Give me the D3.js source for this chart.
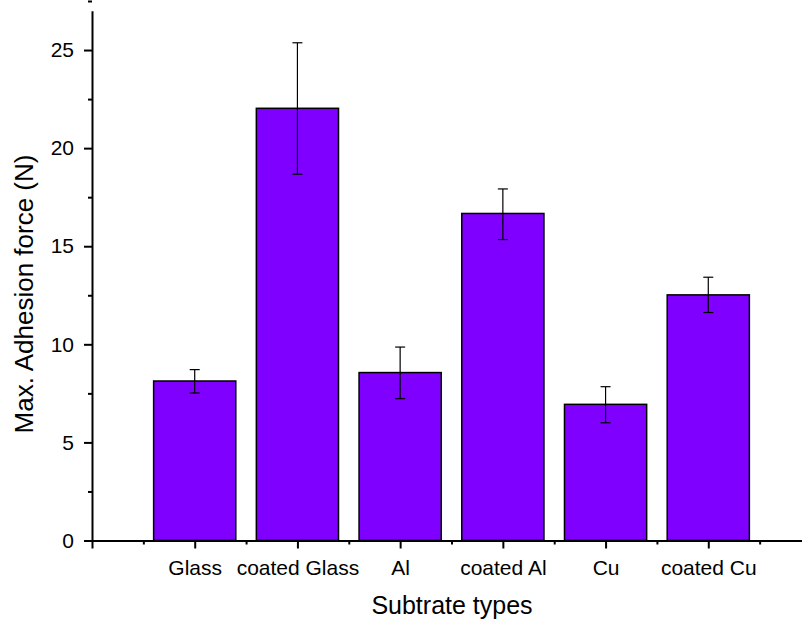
<!DOCTYPE html>
<html>
<head>
<meta charset="utf-8">
<script src="https://cdn.jsdelivr.net/npm/d3@7"></script>
<style>
  body { margin: 0; background: #fff; }
  svg { display: block; font-family: "Liberation Sans", Arial, sans-serif; }
</style>
</head>
<body>
<script>
var width = 802;
var height = 621;

// data
var categories = ["Glass", "coated Glass", "Al", "coated Al", "Cu", "coated Cu"];
var values = [8.13, 22.03, 8.56, 16.67, 6.94, 12.52];
var errLow = [7.52, 18.67, 7.23, 15.34, 6.00, 11.62];
var errHigh = [8.71, 25.37, 9.86, 17.92, 7.84, 13.42];
var yTicks = [0, 5, 10, 15, 20, 25];

var x = d3.scaleLinear().domain([0, 7]).range([92, 811]);
var y = d3.scaleLinear().domain([0, 27]).range([540.5, 10.8]);

const svg = d3.select("body").append("svg")
  .attr("width", width)
  .attr("height", height);

/* 柱子 */
var barW = x(0.8) - x(0);
svg.append("g")
  .selectAll("rect")
  .data(values)
  .enter().append("rect")
  .attr("x", (d, i) => x(i + 1) - barW / 2)
  .attr("y", d => y(d))
  .attr("width", barW)
  .attr("height", d => y(0) - y(d))
  .attr("fill", "#7f00ff")
  .attr("stroke", "#000")
  .attr("stroke-width", 1.5);

/* 误差线 */
var err = svg.append("g")
  .attr("stroke", "#000")
  .attr("stroke-width", 1.2);
values.forEach(function (d, i) {
  var cx = x(i + 1);
  err.append("line")
    .attr("x1", cx).attr("x2", cx)
    .attr("y1", y(errLow[i])).attr("y2", y(errHigh[i]));
  [errLow[i], errHigh[i]].forEach(function (v) {
    err.append("line")
      .attr("x1", cx - 5).attr("x2", cx + 5)
      .attr("y1", y(v)).attr("y2", y(v));
  });
});

/* y 轴 */
var yAxis = svg.append("g")
  .attr("transform", "translate(" + x(0) + ",0)")
  .call(d3.axisLeft(y).tickValues(yTicks).tickSize(8).tickSizeOuter(0).tickPadding(10));
yAxis.selectAll(".tick text").attr("font-size", 21).attr("fill", "#000").attr("font-family", null);
yAxis.select(".domain").attr("stroke-width", 2);
yAxis.selectAll(".tick line").attr("stroke-width", 2);

svg.append("g")
  .attr("transform", "translate(" + x(0) + ",0)")
  .call(d3.axisLeft(y).tickValues(yTicks.map(d => d + 2.5)).tickSize(4).tickFormat(""))
  .call(g => g.select(".domain").remove())
  .selectAll("line").attr("stroke-width", 2);

/* x 轴 */
var xAxis = svg.append("g")
  .attr("transform", "translate(0," + y(0) + ")")
  .call(d3.axisBottom(x).tickValues(d3.range(0, 8)).tickSize(8).tickSizeOuter(0).tickPadding(12)
    .tickFormat(d => categories[d - 1] || ""));
xAxis.selectAll(".tick text").attr("font-size", 21).attr("fill", "#000").attr("font-family", null);
xAxis.select(".domain").attr("stroke-width", 2);
xAxis.selectAll(".tick line").attr("stroke-width", 2);

svg.append("g")
  .attr("transform", "translate(0," + y(0) + ")")
  .call(d3.axisBottom(x).tickValues(d3.range(0, 7).map(d => d + 0.5)).tickSize(4).tickFormat(""))
  .call(g => g.select(".domain").remove())
  .selectAll("line").attr("stroke-width", 2);

/* 轴标题 */
svg.append("text")
  .attr("x", 452)
  .attr("y", 614)
  .attr("text-anchor", "middle")
  .attr("font-size", 25)
  .text("Subtrate types");

svg.append("text")
  .attr("transform", "translate(33,294) rotate(-90)")
  .attr("text-anchor", "middle")
  .attr("font-size", 26)
  .text("Max. Adhesion force (N)");
</script>
</body>
</html>
